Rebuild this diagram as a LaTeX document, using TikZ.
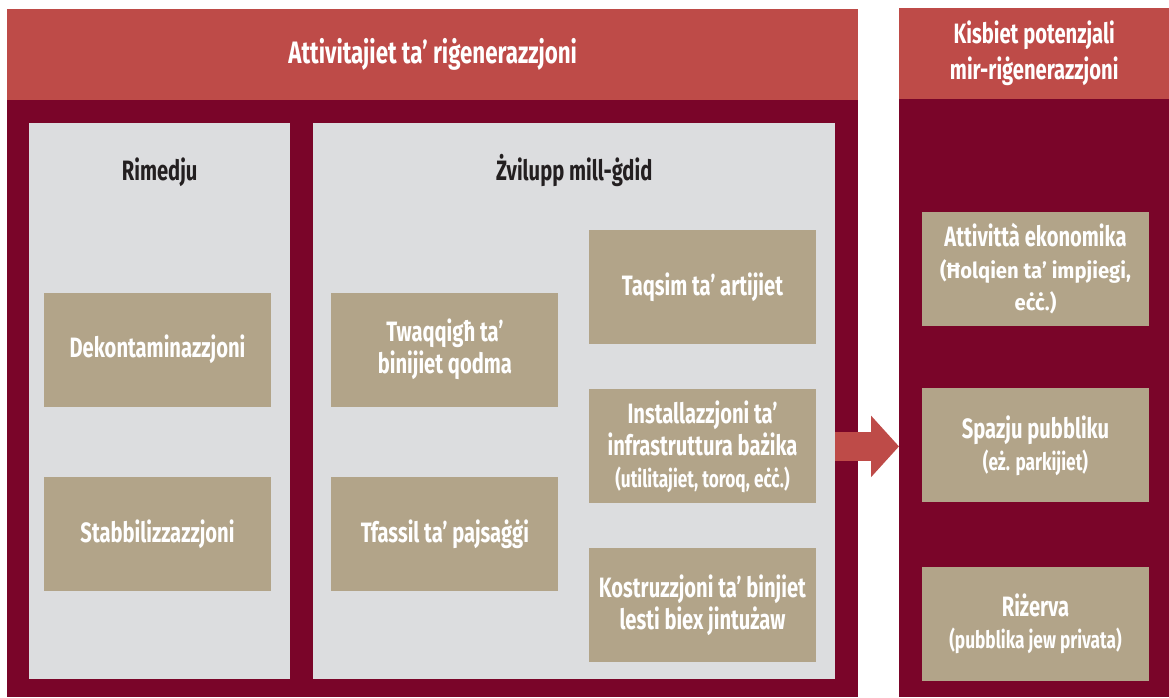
\documentclass[tikz,border=0pt]{standalone}
\usepackage{fontspec}
\setmainfont[FakeStretch=0.72]{Fira Sans}
\newfontfamily\widefont[FakeStretch=0.92]{Fira Sans}
\usepackage{tikz}
\usetikzlibrary{arrows.meta,positioning}
\definecolor{headred}{RGB}{190,75,72}
\definecolor{maroon}{RGB}{122,5,41}
\definecolor{colgrey}{RGB}{220,221,223}
\definecolor{beige}{RGB}{178,164,137}
\definecolor{titlegrey}{RGB}{35,31,32}

\begin{document}
\begin{tikzpicture}[x=1pt,y=-1pt,node distance=45pt,
	panel node/.style={rectangle,fill=maroon,inner sep=0pt,anchor=north west},
	head node/.style={rectangle,fill=headred,inner sep=0pt,anchor=north west,text=white,align=center,font=\bfseries\fontsize{28}{36}\selectfont},
	column node/.style={rectangle,fill=colgrey,inner sep=0pt,anchor=north west},
	title node/.style={text=titlegrey,anchor=base,font=\bfseries\fontsize{28}{34}\selectfont},
	box node/.style={rectangle,fill=beige,text=white,inner sep=0pt,minimum width=227pt,minimum height=114pt,align=center,font=\bfseries\fontsize{28}{32}\selectfont}]
	
	\useasboundingbox (0,0) rectangle (1169,697);
	
	\node[panel node,minimum width=851pt,minimum height=597pt] (act) at (7,100) {};
	\node[head node,minimum width=851pt,minimum height=91pt,font=\bfseries\fontsize{31}{36}\selectfont] (acthead) at (7,9) {Attivitajiet ta’ riġenerazzjoni};
	\node[panel node,minimum width=270pt,minimum height=598pt] (gain) at (899,99) {};
	\node[head node,minimum width=270pt,minimum height=91pt] (gainhead) at (899,8) {Kisbiet potenzjali\\mir-riġenerazzjoni};
	
	\node[column node,minimum width=261pt,minimum height=556pt] (rim) at (29,123) {};
	\node[column node,minimum width=522pt,minimum height=556pt] (dev) at (313,123) {};
	\node[title node] (rimtitle) at ([yshift=-57pt]rim.north) {Rimedju};
	\node[title node] (devtitle) at ([yshift=-57pt]dev.north) {Żvilupp mill-ġdid};
	
	\node[box node] (dekon) at (157.5,349.5) {Dekontaminazzjoni};
	\node[box node,below=70pt of dekon] (stab) {Stabbilizzazzjoni};
	\node[box node,right=60pt of dekon] (twaq) {Twaqqigħ ta’\\binijiet qodma};
	\node[box node,right=60pt of stab] (tfas) {Tfassil ta’ pajsaġġi};
	\node[box node] (taqs) at (702.5,287) {Taqsim ta’ artijiet};
	\node[box node,below=of taqs] (infra) {Installazzjoni ta’\\infrastruttura bażika\\{\fontsize{24}{28}\selectfont(utilitajiet, toroq, eċċ.)}};
	\node[box node,below=44pt of infra] (kostr) {Kostruzzjoni ta’ binjiet\\lesti biex jintużaw};
	
	\node[box node] (ekon) at (1035.5,269) {Attivittà ekonomika\\{\widefont\fontsize{22}{29}\selectfont(Ħolqien ta’ impjiegi,}\\{\widefont\fontsize{22}{29}\selectfont eċċ.)}};
	\node[box node,below=62pt of ekon] (spazju) {Spazju pubbliku\\{\fontsize{24}{28}\selectfont(eż. parkijiet)}};
	\node[box node,below=64pt of spazju] (riz) {Riżerva\\{\fontsize{24}{28}\selectfont(pubblika jew privata)}};
	
	\draw[-{Triangle[length=28pt,width=60pt]},line width=29pt,draw=headred,fill=headred] (dev.east |- infra) -- (gain.west |- infra);
	
\end{tikzpicture}
\end{document}
